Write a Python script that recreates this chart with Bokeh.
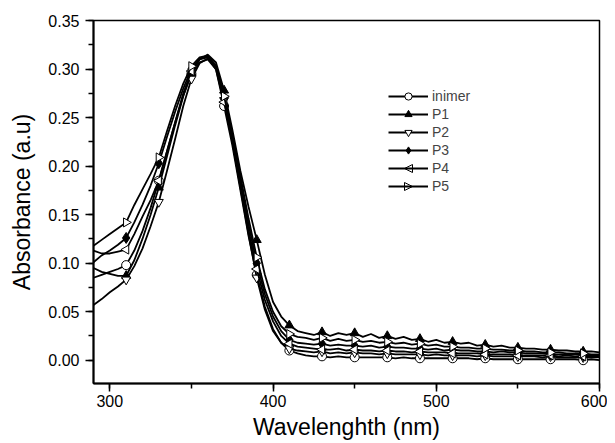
import math
from bokeh.plotting import figure
from bokeh.models import (SingleIntervalTicker, NumeralTickFormatter, Range1d, Legend, LegendItem,
                          Arrow, NormalHead)
from bokeh.embed import file_html
from bokeh.resources import INLINE

wavelength = list(range(290, 605, 5))

inimer_head = [0.085, 0.088, 0.091, 0.094, 0.098, 0.113, 0.133, 0.157, 0.185, 0.215, 0.245, 0.273, 0.295, 0.307,
               0.310, 0.300, 0.262, 0.222, 0.175, 0.128, 0.088, 0.055, 0.032, 0.018, 0.010, 0.007, 0.005]
inimer_tail = [0.004, 0.004, 0.003, 0.004, 0.003, 0.003, 0.003, 0.003, 0.003, 0.003, 0.002, 0.003, 0.002, 0.002,
               0.002, 0.002, 0.002, 0.002, 0.002, 0.002, 0.001, 0.002, 0.001, 0.001, 0.001, 0.001, 0.001, 0.001,
               0.001, 0.001, 0.001, 0.001, 0.001, 0.000, 0.001, 0.000]

p1_head = [0.095, 0.091, 0.089, 0.087, 0.087, 0.103, 0.125, 0.150, 0.178, 0.210, 0.242, 0.272, 0.296, 0.310,
           0.315, 0.307, 0.278, 0.238, 0.195, 0.158, 0.124, 0.088, 0.060, 0.045, 0.036, 0.030, 0.028]
p1_tail = [0.026, 0.029, 0.025, 0.028, 0.026, 0.028, 0.024, 0.027, 0.023, 0.025, 0.022, 0.024, 0.021, 0.022,
           0.019, 0.021, 0.018, 0.019, 0.017, 0.018, 0.015, 0.016, 0.014, 0.015, 0.013, 0.013, 0.012, 0.012,
           0.011, 0.011, 0.010, 0.010, 0.009, 0.009, 0.009, 0.008]

p2_head = [0.057, 0.063, 0.070, 0.076, 0.083, 0.097, 0.115, 0.138, 0.163, 0.195, 0.228, 0.262, 0.290, 0.306,
           0.311, 0.303, 0.268, 0.226, 0.178, 0.130, 0.085, 0.052, 0.030, 0.018, 0.012, 0.010, 0.009]
p2_tail = [0.008, 0.009, 0.007, 0.008, 0.007, 0.008, 0.007, 0.007, 0.006, 0.007, 0.006, 0.006, 0.006, 0.006,
           0.005, 0.006, 0.005, 0.005, 0.005, 0.005, 0.004, 0.005, 0.004, 0.004, 0.004, 0.004, 0.004, 0.004,
           0.003, 0.004, 0.003, 0.003, 0.003, 0.003, 0.003, 0.003]

p3_head = [0.101, 0.108, 0.113, 0.119, 0.126, 0.142, 0.160, 0.180, 0.203, 0.230, 0.256, 0.280, 0.300, 0.311,
           0.313, 0.303, 0.270, 0.230, 0.185, 0.140, 0.100, 0.068, 0.045, 0.030, 0.021, 0.018, 0.017]
p3_tail = [0.016, 0.017, 0.015, 0.016, 0.015, 0.015, 0.014, 0.015, 0.013, 0.014, 0.013, 0.013, 0.012, 0.012,
           0.011, 0.012, 0.010, 0.011, 0.010, 0.010, 0.009, 0.009, 0.008, 0.009, 0.008, 0.008, 0.007, 0.007,
           0.007, 0.006, 0.006, 0.006, 0.006, 0.005, 0.005, 0.005]

p4_head = [0.113, 0.110, 0.110, 0.112, 0.114, 0.130, 0.148, 0.165, 0.185, 0.215, 0.245, 0.275, 0.298, 0.310,
           0.312, 0.300, 0.266, 0.226, 0.180, 0.134, 0.094, 0.062, 0.040, 0.025, 0.017, 0.014, 0.013]
p4_tail = [0.012, 0.011, 0.011, 0.012, 0.010, 0.011, 0.010, 0.010, 0.009, 0.010, 0.009, 0.009, 0.008, 0.009,
           0.008, 0.008, 0.008, 0.007, 0.007, 0.007, 0.007, 0.006, 0.006, 0.006, 0.006, 0.005, 0.005, 0.005,
           0.005, 0.005, 0.004, 0.005, 0.004, 0.004, 0.004, 0.004]

p5_head = [0.118, 0.124, 0.130, 0.136, 0.142, 0.160, 0.176, 0.192, 0.209, 0.236, 0.262, 0.285, 0.303, 0.312,
           0.314, 0.304, 0.272, 0.233, 0.190, 0.146, 0.106, 0.073, 0.050, 0.035, 0.027, 0.024, 0.023]
p5_tail = [0.021, 0.023, 0.020, 0.022, 0.020, 0.021, 0.019, 0.020, 0.018, 0.019, 0.017, 0.018, 0.016, 0.017,
           0.015, 0.016, 0.014, 0.014, 0.013, 0.013, 0.012, 0.012, 0.011, 0.011, 0.010, 0.010, 0.009, 0.009,
           0.008, 0.008, 0.008, 0.007, 0.007, 0.007, 0.006, 0.006]

labels = ["inimer", "P1", "P2", "P3", "P4", "P5"]
series = [inimer_head + inimer_tail, p1_head + p1_tail, p2_head + p2_tail,
          p3_head + p3_tail, p4_head + p4_tail, p5_head + p5_tail]

FONT = "Liberation Sans"

p = figure(width=607, height=442, output_backend="svg", toolbar_location=None,
           x_range=Range1d(290, 600), y_range=Range1d(-0.024, 0.3501),
           min_border_left=93, min_border_right=8, min_border_top=20, min_border_bottom=58)

p.xgrid.visible = False
p.ygrid.visible = False
p.outline_line_color = "black"
p.outline_line_width = 1.5
p.background_fill_color = "white"
p.border_fill_color = "white"

p.xaxis.ticker = SingleIntervalTicker(interval=100, num_minor_ticks=2)
p.yaxis.ticker = SingleIntervalTicker(interval=0.05, num_minor_ticks=2)
p.yaxis.formatter = NumeralTickFormatter(format="0.00")
for ax in (p.xaxis[0], p.yaxis[0]):
    ax.axis_line_width = 2
    ax.axis_line_color = "black"
    ax.major_tick_in = 0
    ax.major_tick_out = 8
    ax.minor_tick_in = 0
    ax.minor_tick_out = 5
    ax.major_tick_line_width = 1.5
    ax.minor_tick_line_width = 1.5
    ax.major_label_text_font = FONT
    ax.major_label_text_font_size = "16px"
    ax.major_label_text_color = "black"
    ax.axis_label_text_font = FONT
    ax.axis_label_text_font_size = "23px"
    ax.axis_label_text_font_style = "normal"
    ax.axis_label_text_color = "black"

p.xaxis.axis_label = "Wavelenghth (nm)"
p.yaxis.axis_label = "Absorbance (a.u)"
p.xaxis.major_label_standoff = 3
p.yaxis.major_label_standoff = 6
p.xaxis.axis_label_standoff = 4
p.yaxis.axis_label_standoff = 10

markers = [
    dict(marker="circle", fill_color="white", angle=0.0),
    dict(marker="triangle", fill_color="black", angle=0.0),
    dict(marker="inverted_triangle", fill_color="white", angle=0.0),
    dict(marker="diamond", fill_color="black", angle=0.0),
    dict(marker="triangle", fill_color="white", angle=math.pi / 2),
    dict(marker="triangle", fill_color="white", angle=-math.pi / 2),
]

items = []
for lab, ys, mk in zip(labels, series, markers):
    r_line = p.line(wavelength, ys, line_color="black", line_width=1.8)
    size = 11 if mk["marker"] == "diamond" else 9
    r_sc = p.scatter(wavelength[4::4], ys[4::4], marker=mk["marker"], size=size,
                     fill_color=mk["fill_color"], line_color="black", line_width=1,
                     angle=mk["angle"])
    rends = [r_line] if mk["angle"] != 0.0 else [r_line, r_sc]
    items.append(LegendItem(label=lab, renderers=rends))

# legend block geometry (screen units, relative to the frame's bottom-left)
LEG_X, LEG_Y, ROW, GLYPH_W = 295, 188, 18, 40
legend = Legend(items=items, location=(LEG_X, LEG_Y), glyph_width=GLYPH_W, glyph_height=ROW,
                spacing=0, padding=0, margin=0, label_standoff=4,
                label_text_font=FONT, label_text_font_size="14px", label_height=ROW,
                border_line_color=None, background_fill_alpha=0)
p.add_layout(legend, "center")

# left / right pointing legend markers for P4 and P5 (Bokeh legends ignore marker angle)
cx = LEG_X + GLYPH_W / 2
for row, direction in ((4, -1), (5, 1)):
    cy = LEG_Y + (len(labels) - row - 0.5) * ROW
    head = NormalHead(size=8, fill_color="white", line_color="black", line_width=1)
    arr = Arrow(end=head, x_start=cx - direction * 4, y_start=cy, x_end=cx + direction * 4, y_end=cy,
                start_units="screen", end_units="screen", line_color=None)
    p.add_layout(arr)

open("out.html", "w").write(file_html(p, INLINE))
